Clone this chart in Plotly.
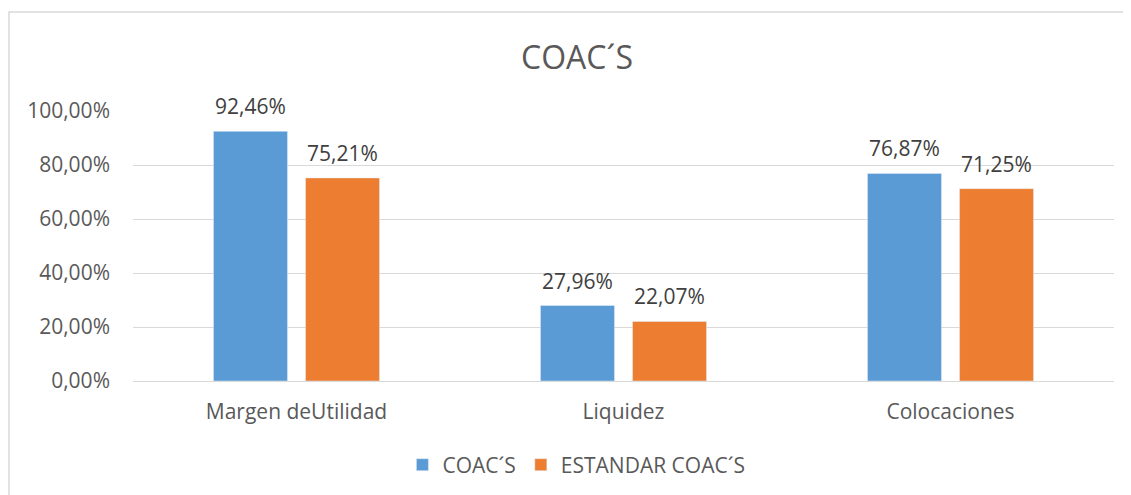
import plotly.graph_objects as go

categories = ["Margen deUtilidad", "Liquidez", "Colocaciones"]
coacs = [0.9246, 0.2796, 0.7687]
estandar = [0.7521, 0.2207, 0.7125]
series_names = ["COAC´S", "ESTANDAR COAC´S"]
tick_vals = [0, 0.2, 0.4, 0.6, 0.8, 1.0]
tick_text = ["0,00%", "20,00%", "40,00%", "60,00%", "80,00%", "100,00%"]

def fmt(v):
    return f"{v*100:.2f}%".replace(".", ",")

FONT = "'Open Sans', sans-serif"
OFF = 8  # browser body margin
FS = 21

fig = go.Figure()
fig.add_bar(x=categories, y=coacs, name=series_names[0], marker_color="#5B9BD5")
fig.add_bar(x=categories, y=estandar, name=series_names[1], marker_color="#ED7D31")

W, H = 1131 - OFF, 495 - OFF
l, t = 133 - OFF, 111 - OFF
r = W - (1114 - OFF)
b = H - (381 - OFF)
pw, ph = W - l - r, H - t - b

BARGAP = 0.437
GROUPGAP = 0.196
slot = pw / len(categories) * (1 - BARGAP) / 2

annotations = []
for series, shift in ((coacs, -slot / 2), (estandar, slot / 2)):
    for c, v in zip(categories, series):
        annotations.append(dict(x=c, y=v, xref="x", yref="y", text=fmt(v),
                                showarrow=False, xshift=shift, yshift=9,
                                yanchor="bottom", xanchor="center",
                                font=dict(size=FS, color="#404040", family=FONT)))

fig.update_layout(
    width=W, height=H,
    margin=dict(l=l, r=r, t=t, b=b, autoexpand=False),
    paper_bgcolor="white", plot_bgcolor="white",
    font=dict(family=FONT, color="#595959", size=FS),
    title=dict(text="COAC´S", x=(577 - OFF) / W, xref="container", xanchor="center",
               y=1 - (58 - OFF) / H, yanchor="middle",
               font=dict(size=32, color="#595959", family=FONT)),
    barmode="group", bargap=BARGAP, bargroupgap=GROUPGAP,
    showlegend=True,
    legend=dict(orientation="h", x=0.452, xanchor="center", y=-(465 - 381) / ph,
                yanchor="middle", font=dict(size=FS, color="#595959"),
                itemwidth=30, traceorder="normal"),
    xaxis=dict(showline=True, linecolor="#D9D9D9", linewidth=1, ticks="",
               tickfont=dict(size=FS, color="#595959"), showgrid=False,
               ticklabelstandoff=12),
    yaxis=dict(range=[0, 1.0], tickvals=tick_vals, ticktext=tick_text,
               showgrid=True, gridcolor="#D9D9D9", gridwidth=1, zeroline=False,
               ticks="", tickfont=dict(size=FS, color="#595959"), ticklabelstandoff=22),
    annotations=annotations,
    shapes=[dict(type="rect", xref="paper", yref="paper",
                 x0=(9 - 133) / pw, x1=(1140 - 133) / pw,
                 y0=(381 - 510) / ph, y1=(381 - 12) / ph,
                 line=dict(color="#D9D9D9", width=1.5), layer="below")],
)

fig.write_html("out.html")
